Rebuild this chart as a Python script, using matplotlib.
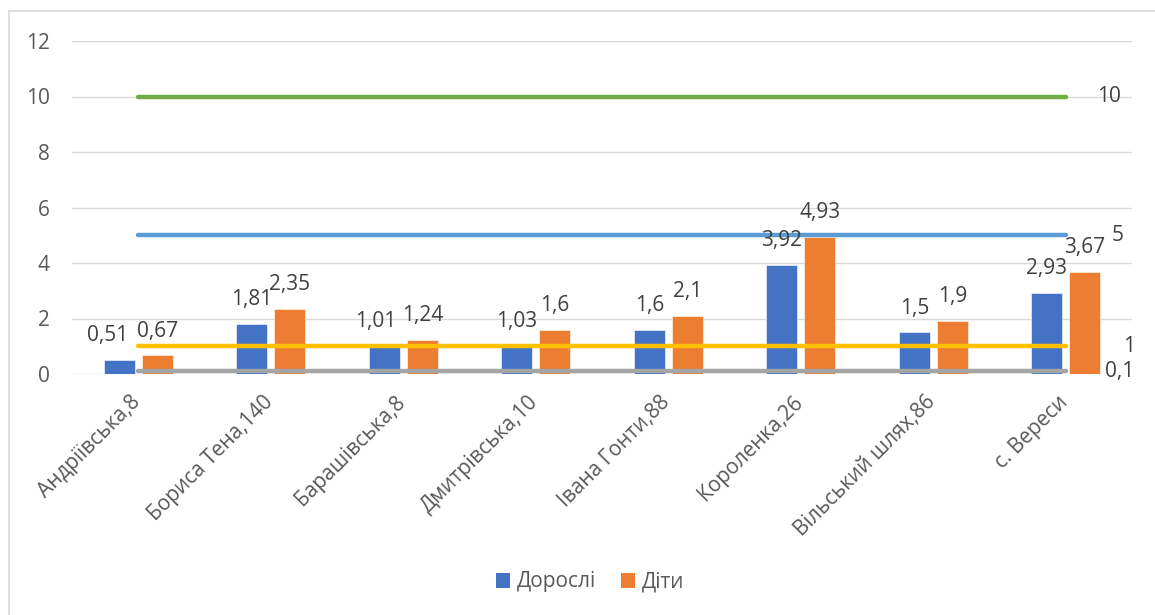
import matplotlib
matplotlib.use("Agg")
import matplotlib.pyplot as plt
import matplotlib.transforms as mtransforms
from matplotlib.patches import Patch
from matplotlib.lines import Line2D
import numpy as np

plt.rcParams['font.family'] = ['Open Sans', 'DejaVu Sans']

categories = ["Андріївська,8", "Бориса Тена,140", "Барашівська,8", "Дмитрівська,10",
              "Івана Гонти,88", "Короленка,26", "Вільський шлях,86", "с. Вереси"]
adults = [0.51, 1.81, 1.01, 1.03, 1.6, 3.92, 1.5, 2.93]
children = [0.67, 2.35, 1.24, 1.6, 2.1, 4.93, 1.9, 3.67]
limit_values = [10, 5, 1, 0.1]
limit_colors = ["#70AD47", "#5B9BD5", "#FFC000", "#A5A5A5"]
series_names = ["Дорослі", "Діти"]
yticks = [0, 2, 4, 6, 8, 10, 12]

text_color = "#595959"
label_color = "#404040"
fs = 15


def fmt(v):
    return f"{v:g}".replace(".", ",")


fig = plt.figure(figsize=(11.55, 6.15), dpi=100)
ax = fig.add_axes([72 / 1155, 1 - 374 / 615, 1060 / 1155, 333 / 615])

x = np.arange(len(categories))
w = 0.235
off = 0.143
ax.bar(x - off, adults, w, color="#4472C4", edgecolor="white", linewidth=0.4, zorder=2)
ax.bar(x + off, children, w, color="#ED7D31", edgecolor="white", linewidth=0.4, zorder=2)

# Horizontal reference levels spanning the categories
label_dx = {10: 0.234, 5: 0.347, 1: 0.43, 0.1: 0.30}
for val, col in zip(limit_values, limit_colors):
    ax.plot([x[0], x[-1]], [val, val], color=col, lw=3.2, solid_capstyle="round", zorder=3)
    ax.text(x[-1] + label_dx[val], val, fmt(val), ha="left", va="center",
            fontsize=fs, color=label_color, zorder=4)

# Value labels over bars
shift_px = {(0, 0): -12, (2, 0): -9}
for i, (a, c) in enumerate(zip(adults, children)):
    for j, (v, dx) in enumerate(((a, -off), (c, off))):
        ax.annotate(fmt(v), (x[i] + dx, v), xytext=(shift_px.get((i, j), 0) * 0.72, 17.5),
                    textcoords="offset points", ha="center", va="center",
                    fontsize=fs, color=label_color, zorder=4)

ax.set_xlim(-0.5, len(categories) - 0.5)
ax.set_ylim(0, 12)
ax.set_yticks(yticks)
ax.set_yticklabels([str(t) for t in yticks])
ax.grid(axis="y", color="#D9D9D9", lw=1.0, zorder=0)
ax.set_axisbelow(True)
for s in ax.spines.values():
    s.set_visible(False)
ax.tick_params(axis="y", length=0, pad=16, labelsize=fs, labelcolor=text_color)
ax.tick_params(axis="x", length=0, pad=18, labelsize=fs, labelcolor=text_color)
ax.set_xticks(x)
ax.set_xticklabels(categories, rotation=45, ha="right", va="center", rotation_mode="anchor")
shift = mtransforms.ScaledTranslation(-1 / 100, 0, fig.dpi_scale_trans)
for lbl in ax.get_xticklabels():
    lbl.set_transform(lbl.get_transform() + shift)

# Chart area border (left and top edges)
fig.add_artist(Line2D([8.5 / 1155, 8.5 / 1155], [0, 1 - 11 / 615], color="#D9D9D9", lw=1.2))
fig.add_artist(Line2D([8.5 / 1155, 1], [1 - 11 / 615, 1 - 11 / 615], color="#D9D9D9", lw=1.2))

handles = [Patch(facecolor="#4472C4"), Patch(facecolor="#ED7D31")]
fig.legend(handles, series_names, loc="center", bbox_to_anchor=(590 / 1155, 1 - 582 / 615),
           ncol=2, frameon=False, fontsize=fs, labelcolor=text_color,
           handlelength=0.7, handleheight=0.7, handletextpad=0.3, columnspacing=1.2)

fig.savefig("out.png", dpi=100, facecolor="white")
